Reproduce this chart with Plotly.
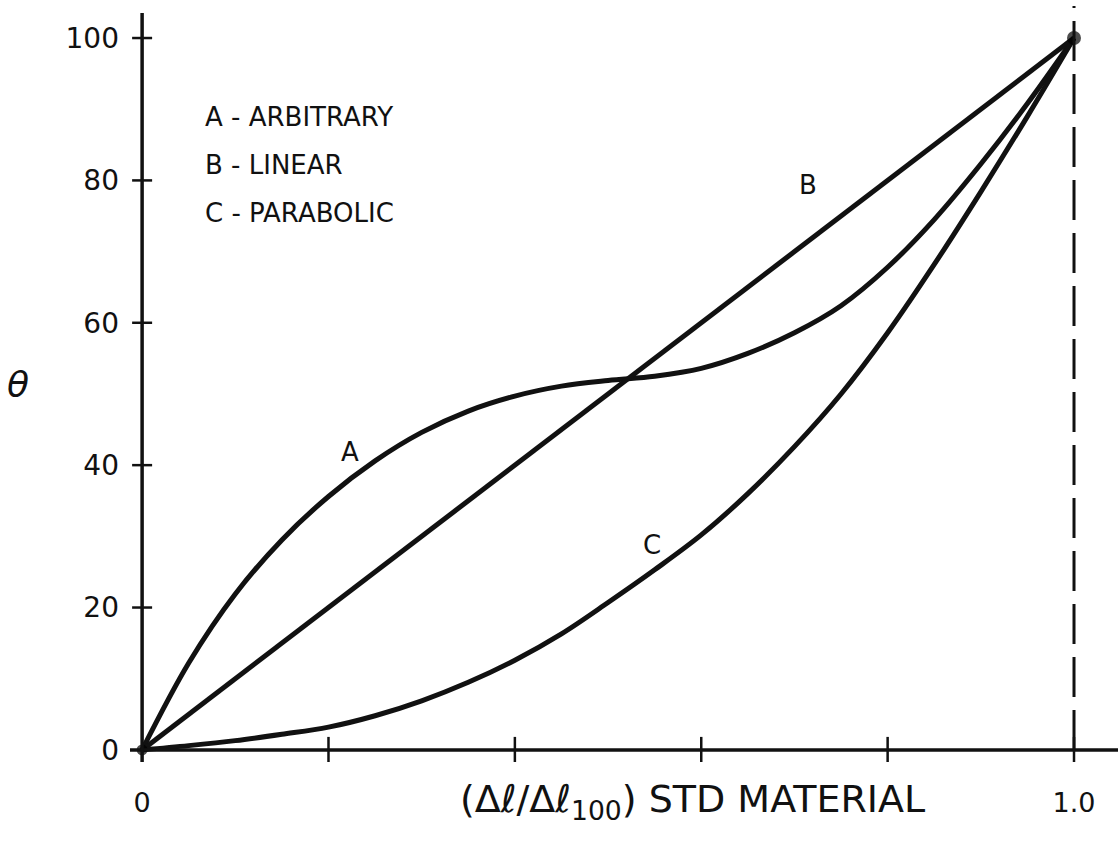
import plotly.graph_objects as go

# ---- data ----
x_A = [0, 0.05, 0.1, 0.15, 0.2, 0.25, 0.3, 0.35, 0.4, 0.45, 0.5,
       0.55, 0.6, 0.65, 0.7, 0.75, 0.8, 0.85, 0.9, 0.95, 1.0]
y_A = [0, 12.2, 21.9, 29.5, 35.6, 40.6, 44.6, 47.6, 49.7, 51.1, 51.9,
       52.5, 53.6, 55.7, 58.6, 62.4, 67.8, 74.5, 82.3, 90.8, 100]

x_B = [0, 1.0]
y_B = [0, 100]

x_C = [0, 0.05, 0.1, 0.15, 0.2, 0.25, 0.3, 0.35, 0.4, 0.45, 0.5,
       0.55, 0.6, 0.65, 0.7, 0.75, 0.8, 0.85, 0.9, 0.95, 1.0]
y_C = [0, 0.6, 1.3, 2.2, 3.2, 4.8, 6.9, 9.5, 12.6, 16.3, 20.7,
       25.3, 30.2, 36.0, 42.6, 50.0, 58.6, 68.2, 78.4, 89.0, 100]

y_ticks = [0, 20, 40, 60, 80, 100]
x_minor_ticks = [0.2, 0.4, 0.6, 0.8, 1.0]
x_label_vals = [0, 1.0]
x_label_text = ["0", "1.0"]

legend_lines = ["A - ARBITRARY", "B - LINEAR", "C - PARABOLIC"]
legend_y = [88.9, 82.2, 75.4]
curve_labels = ["A", "B", "C"]
curve_label_x = [0.223, 0.715, 0.547]
curve_label_y = [41.9, 79.4, 28.8]

FONT = "DejaVu Sans"
BLACK = "#111111"

fig = go.Figure()
for xs, ys in [(x_A, y_A), (x_B, y_B), (x_C, y_C)]:
    fig.add_trace(go.Scatter(x=xs, y=ys, mode="lines",
                             line=dict(color=BLACK, width=5, shape="spline", smoothing=1.0),
                             showlegend=False, hoverinfo="skip"))
# end points
fig.add_trace(go.Scatter(x=[0, 1.0], y=[0, 100], mode="markers",
                         marker=dict(color="#000000", size=[11, 14], line=dict(width=0)),
                         showlegend=False, hoverinfo="skip"))

XMIN, XMAX = -0.013, 1.0472
YMIN, YMAX = -1.7, 104.5

shapes = []
# axis lines
shapes.append(dict(type="line", xref="x", yref="y", x0=-0.015, x1=XMAX, y0=0, y1=0,
                   line=dict(color=BLACK, width=3.5)))
shapes.append(dict(type="line", xref="x", yref="y", x0=0, x1=0, y0=YMIN, y1=103.5,
                   line=dict(color=BLACK, width=3.5)))
# dashed line at x = 1.0
shapes.append(dict(type="line", xref="x", yref="y", x0=1.0, x1=1.0, y0=0, y1=YMAX,
                   line=dict(color=BLACK, width=3, dash="40px,13px")))
# y ticks crossing the axis
for v in y_ticks[1:]:
    shapes.append(dict(type="line", xref="x", yref="y", xsizemode="pixel", xanchor=0,
                       x0=-10, x1=10, y0=v, y1=v, line=dict(color=BLACK, width=2.5)))
# x ticks crossing the axis
for v in x_minor_ticks:
    shapes.append(dict(type="line", xref="x", yref="y", ysizemode="pixel", yanchor=0,
                       y0=-13, y1=13, x0=v, x1=v, line=dict(color=BLACK, width=2.5)))

annotations = []
for t, yv in zip(legend_lines, legend_y):
    annotations.append(dict(x=0.065, y=yv, xref="x", yref="y", text=t, showarrow=False,
                            xanchor="left", yanchor="middle",
                            font=dict(family=FONT, size=26, color=BLACK)))
for t, xv, yv in zip(curve_labels, curve_label_x, curve_label_y):
    annotations.append(dict(x=xv, y=yv, xref="x", yref="y", text=t, showarrow=False,
                            xanchor="center", yanchor="middle",
                            font=dict(family=FONT, size=26, color=BLACK)))
annotations.append(dict(x=-0.1134, y=51.3, xref="paper", yref="y", text="<i>θ</i>",
                        showarrow=False, xanchor="center", yanchor="middle",
                        font=dict(family=FONT, size=36, color=BLACK)))
annotations.append(dict(x=0.591, y=-0.052, xref="x", yref="paper",
                        text="(Δℓ/Δℓ<sub>100</sub>) STD MATERIAL", showarrow=False,
                        xanchor="center", yanchor="middle",
                        font=dict(family=FONT, size=38, color=BLACK)))

fig.update_layout(
    width=1118, height=844,
    margin=dict(l=130, r=0, t=6, b=82, pad=0),
    paper_bgcolor="white", plot_bgcolor="white",
    shapes=shapes, annotations=annotations,
    xaxis=dict(range=[XMIN, XMAX], showgrid=False, zeroline=False, showline=False,
               tickvals=x_label_vals, ticktext=x_label_text, ticks="",
               ticklabelstandoff=22,
               tickfont=dict(family=FONT, size=27, color=BLACK)),
    yaxis=dict(range=[YMIN, YMAX], showgrid=False, zeroline=False, showline=False,
               tickvals=y_ticks, ticks="", ticklabelstandoff=10,
               tickfont=dict(family=FONT, size=28, color=BLACK)),
)

fig.write_html("out.html")
